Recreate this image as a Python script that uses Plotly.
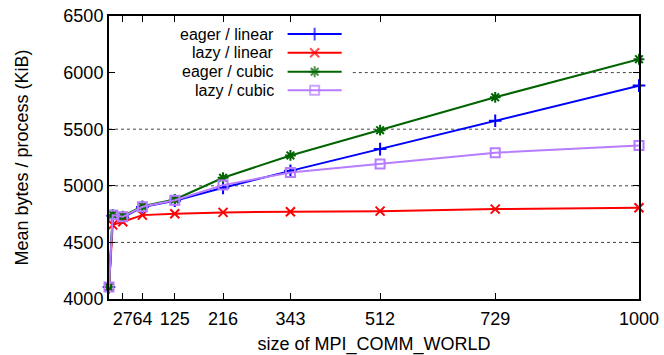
import plotly.graph_objects as go

# ---- data ----
comm_size = [1, 8, 27, 64, 125, 216, 343, 512, 729, 1000]
eager_linear = [4105, 4735, 4720, 4812, 4868, 4982, 5132, 5324, 5574, 5885]
lazy_linear = [4105, 4655, 4683, 4741, 4753, 4765, 4771, 4776, 4794, 4806]
eager_cubic = [4105, 4745, 4732, 4820, 4879, 5071, 5268, 5491, 5782, 6118]
lazy_cubic = [4105, 4741, 4726, 4815, 4873, 5006, 5118, 5193, 5293, 5355]
x_ticks = [27, 64, 125, 216, 343, 512, 729, 1000]
y_ticks = [4000, 4500, 5000, 5500, 6000, 6500]
grid_vals = [4500, 5000, 5500, 6000]
series_names = ["eager / linear", "lazy / linear", "eager / cubic", "lazy / cubic"]

colors = ["#0000ff", "#ff0000", "#006400", "#b77cff"]
symbols = ["cross-thin", "x-thin", "asterisk", "square-open"]
msizes = [9, 9, 9, 9]

FONT = "Liberation Sans, Arial, Helvetica, sans-serif"
FS = 18
X_RANGE = [1, 1000]
Y_RANGE = [4000, 6500]


def fx(frac):
    return X_RANGE[0] + frac * (X_RANGE[1] - X_RANGE[0])


def fy(frac):
    return Y_RANGE[0] + frac * (Y_RANGE[1] - Y_RANGE[0])


fig = go.Figure()
all_series = [eager_linear, lazy_linear, eager_cubic, lazy_cubic]
for name, ys, c, s, ms in zip(series_names, all_series, colors, symbols, msizes):
    fig.add_trace(go.Scatter(
        x=comm_size, y=ys, name=name, mode="lines+markers",
        line=dict(color=c, width=2),
        marker=dict(symbol=s, size=ms, color=c, line=dict(color=c, width=2)),
        showlegend=False, cliponaxis=False,
    ))

# ---- custom gnuplot-style legend (text left, sample right), placed by plot fraction ----
leg_rows = [0.936, 0.870, 0.803, 0.738]
for name, c, s, ms, yy in zip(series_names, colors, symbols, msizes, leg_rows):
    fig.add_trace(go.Scatter(
        x=[fx(0.337), fx(0.388), fx(0.439)], y=[fy(yy)] * 3,
        mode="lines+markers", line=dict(color=c, width=2),
        marker=dict(symbol=s, size=[0, ms, 0], color=c, line=dict(color=c, width=2)),
        showlegend=False, hoverinfo="skip",
    ))
    fig.add_annotation(x=0.315, y=yy, xref="x domain", yref="y domain", text=name,
                       showarrow=False, xanchor="right", yanchor="middle",
                       font=dict(family=FONT, size=16, color="black"))

# dotted horizontal grid lines (the 6000 one is interrupted by the legend box)
for g in grid_vals:
    x_start = 0.46 if g == 6000 else 0.0
    fig.add_shape(type="line", xref="x domain", yref="y", x0=x_start, x1=1.0, y0=g, y1=g,
                  line=dict(color="#444444", width=1, dash="dot"), layer="below")

fig.update_layout(
    width=664, height=355,
    margin=dict(l=109, r=25, t=16, b=56, autoexpand=False),
    paper_bgcolor="white", plot_bgcolor="white",
    font=dict(family=FONT, size=FS, color="black"),
    xaxis=dict(
        range=X_RANGE, tickvals=x_ticks, ticktext=[str(v) for v in x_ticks],
        tickangle=0, ticklabelstandoff=2, automargin=False,
        ticks="inside", ticklen=6, tickwidth=1, tickcolor="black",
        showline=True, linecolor="black", linewidth=2, mirror="allticks",
        showgrid=False, zeroline=False,
        title=dict(text="size of MPI_COMM_WORLD", standoff=14,
                   font=dict(family=FONT, size=FS)),
        tickfont=dict(family=FONT, size=FS),
    ),
    yaxis=dict(
        range=Y_RANGE, tickvals=y_ticks, automargin=False,
        ticks="inside", ticklen=6, tickwidth=1, tickcolor="black",
        showline=True, linecolor="black", linewidth=2, mirror="allticks",
        showgrid=False, zeroline=False,
        title=dict(text="Mean bytes / process (KiB)", standoff=30,
                   font=dict(family=FONT, size=FS)),
        tickfont=dict(family=FONT, size=FS),
    ),
    showlegend=False,
)

fig.write_html("out.html", config={"displayModeBar": False},
               post_script="document.body.style.margin='0';document.body.style.overflow='hidden';")
